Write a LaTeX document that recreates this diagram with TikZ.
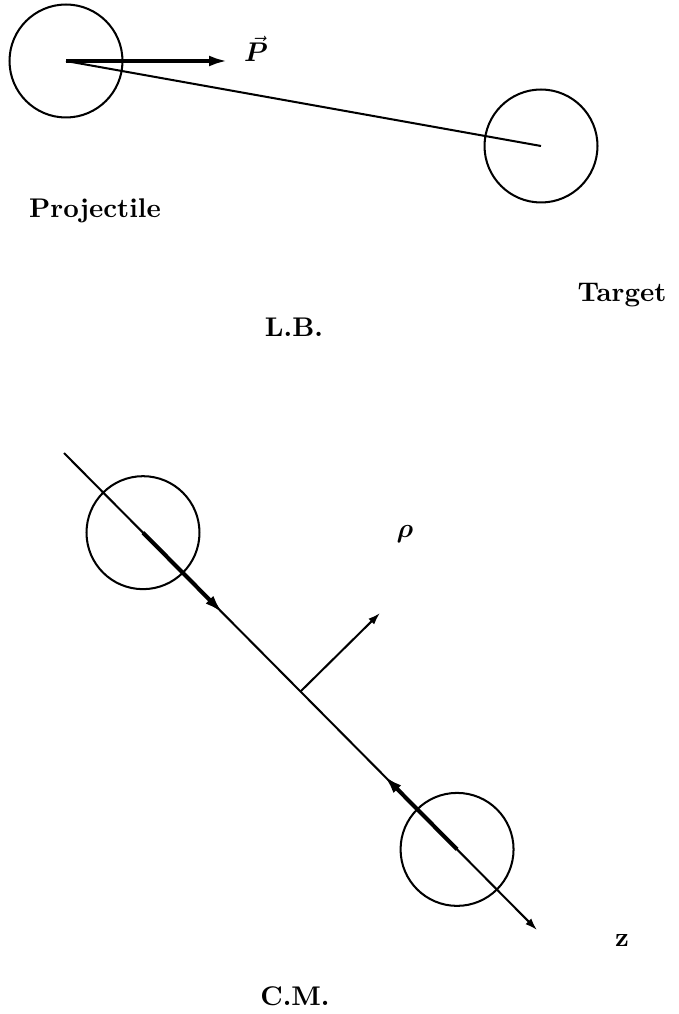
\documentclass[tikz,border=0pt]{standalone}
\usepackage{bm}
\usetikzlibrary{arrows.meta,calc}
\begin{document}
\begin{tikzpicture}[x=0.37pt,y=-0.37pt,
  ball/.style={draw,circle,line width=0.75pt,minimum size=41.8pt,inner sep=0pt},
  wire/.style={line width=0.75pt},
  heavy/.style={line width=1.5pt},
  bigtip/.style={-{Latex[length=7pt,width=4pt]}},
  smalltip/.style={-{Latex[length=4.5pt,width=3pt]}},
  lbl/.style={font=\bfseries,inner sep=0pt}
]
\useasboundingbox (0,0) rectangle (678,1014);
% --- L.B. frame ---
\node[ball] (c1) at (66,61) {};
\node[ball] (c2) at (541,146) {};
\draw[wire] (c1.center) -- (c2.center);
\coordinate (ptip) at (228,61);
\draw[heavy,bigtip] (c1.center) -- (ptip);
\node[lbl,anchor=base] (pvec) at (256,62) {$\vec{\bm{P}}$};
\node[lbl,anchor=base] (proj) at (95,218) {Projectile};
\node[lbl,anchor=base] (targ) at (622,302) {Target};
\node[lbl,anchor=base] (lb) at (294,337) {L.B.};
% --- C.M. frame ---
\coordinate (s) at (64,453);
\coordinate (e) at (537,930);
\node[ball] (c3) at ($(s)!0.167!(e)$) {};
\node[ball] (c4) at ($(s)!0.831!(e)$) {};
\draw[wire,smalltip] (s) -- (e);
\coordinate (m) at ($(s)!0.5!(e)$);
\coordinate (r) at (380,613);
\draw[wire,smalltip] (m) -- (r);
\coordinate (a1) at ($(s)!0.336!(e)$);
\coordinate (a2) at ($(s)!0.6765!(e)$);
\draw[heavy,bigtip] (c3.center) -- (a1);
\draw[heavy,bigtip] (c4.center) -- (a2);
\node[lbl] (rho) at (405,534) {$\bm{\rho}$};
\node[lbl,anchor=base] (z) at (622,946) {z};
\node[lbl,anchor=base] (cm) at (295,1005) {C.M.};
\end{tikzpicture}
\end{document}
